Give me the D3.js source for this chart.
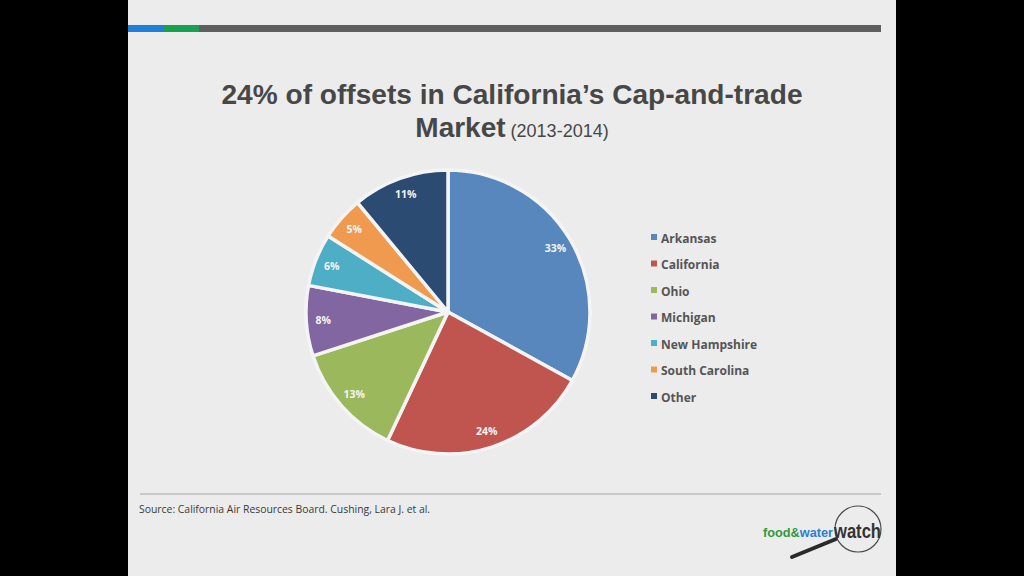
<!DOCTYPE html>
<html>
<head>
<meta charset="utf-8">
<script src="https://cdn.jsdelivr.net/npm/d3@7"></script>
<style>
  html, body { margin: 0; padding: 0; background: #000; }
  svg { display: block; }
</style>
</head>
<body>
<svg id="chart" width="1024" height="576"></svg>
<script>
// ----- data -----
const states = ['Arkansas', 'California', 'Ohio', 'Michigan', 'New Hampshire', 'South Carolina', 'Other'];
const shares = [33, 24, 13, 8, 6, 5, 11];
const colors = ['#5787bd', '#c0554f', '#9bb85c', '#8266a1', '#4eaec6', '#ef9a4f', '#2b4b72'];

const svg = d3.select('#chart');
const width = 1024, height = 576;

// slide panel
const slide = svg.append('g');
slide.append('rect')
    .attr('x', 128).attr('y', 0)
    .attr('width', 768).attr('height', height)
    .attr('fill', '#ececec');

// top accent bar
slide.append('rect').attr('x', 128).attr('y', 25).attr('width', 36).attr('height', 7).attr('fill', '#1f7fd8');
slide.append('rect').attr('x', 164).attr('y', 25).attr('width', 35).attr('height', 7).attr('fill', '#16a04f');
slide.append('rect').attr('x', 199).attr('y', 25).attr('width', 682).attr('height', 7).attr('fill', '#5f5f5f');

// title
slide.append('text')
    .attr('x', 512).attr('y', 104)
    .attr('text-anchor', 'middle')
    .attr('font-family', 'Liberation Sans, Arial, sans-serif')
    .attr('font-weight', 'bold')
    .attr('font-size', 28)
    .attr('fill', '#474747')
    .attr('textLength', 581)
    .attr('lengthAdjust', 'spacingAndGlyphs')
    .text('24% of offsets in California\u2019s Cap-and-trade');

const title2 = slide.append('text')
    .attr('x', 512).attr('y', 137)
    .attr('text-anchor', 'middle')
    .attr('font-family', 'Liberation Sans, Arial, sans-serif')
    .attr('fill', '#474747');
title2.append('tspan').attr('font-weight', 'bold').attr('font-size', 28).text('Market');
title2.append('tspan').attr('font-size', 18).text(' (2013-2014)');

// ----- pie -----
const cx = 448, cy = 312, radius = 142;

const pie = d3.pie().sort(null).value(d => d)(shares);
const arc = d3.arc().innerRadius(0).outerRadius(radius);
const labelArc = d3.arc().innerRadius(radius * 0.88).outerRadius(radius * 0.88);

const pieG = slide.append('g').attr('transform', `translate(${cx},${cy})`);

pieG.selectAll('path.slice')
    .data(pie)
    .join('path')
    .attr('class', 'slice')
    .attr('d', arc)
    .attr('fill', (d, i) => colors[i])
    .attr('stroke', '#f4f4f4')
    .attr('stroke-width', 3.5)
    .attr('stroke-linejoin', 'round');

pieG.selectAll('text.pct')
    .data(pie)
    .join('text')
    .attr('class', 'pct')
    .attr('transform', d => `translate(${labelArc.centroid(d)})`)
    .attr('text-anchor', 'middle')
    .attr('dy', '0.35em')
    .attr('font-family', 'Open Sans, Liberation Sans, sans-serif')
    .attr('font-weight', 'bold')
    .attr('font-size', 10.5)
    .attr('fill', '#f4f4f4')
    .text(d => d.data + '%');

// ----- legend -----
const legendY = d3.scalePoint().domain(states).range([239, 398]);

const legend = slide.append('g').selectAll('g')
    .data(states)
    .join('g')
    .attr('transform', d => `translate(651,${legendY(d)})`);

legend.append('rect')
    .attr('x', 0).attr('y', -5)
    .attr('width', 6).attr('height', 6)
    .attr('fill', (d, i) => colors[i]);

legend.append('text')
    .attr('x', 10).attr('y', 0)
    .attr('dy', '0.32em')
    .attr('font-family', 'Open Sans, Liberation Sans, sans-serif')
    .attr('font-weight', 'bold')
    .attr('font-size', 12)
    .attr('fill', '#555')
    .text(d => d);

// ----- footer -----
slide.append('line')
    .attr('x1', 140).attr('x2', 881)
    .attr('y1', 494).attr('y2', 494)
    .attr('stroke', '#bdbdbd').attr('stroke-width', 1.5);

slide.append('text')
    .attr('x', 139).attr('y', 513)
    .attr('font-family', 'Open Sans, Liberation Sans, sans-serif')
    .attr('font-size', 10.4)
    .attr('fill', '#3a3a3a')
    .text('Source: California Air Resources Board. Cushing, Lara J. et al.');

// logo
const logo = slide.append('g');
logo.append('line')
    .attr('x1', 792).attr('y1', 557)
    .attr('x2', 836).attr('y2', 539)
    .attr('stroke', '#2a2a2a').attr('stroke-width', 4).attr('stroke-linecap', 'round');
logo.append('circle')
    .attr('cx', 858).attr('cy', 529).attr('r', 23)
    .attr('fill', 'none').attr('stroke', '#4a4a4a').attr('stroke-width', 1.2);
logo.append('text')
    .attr('x', 763).attr('y', 537)
    .attr('font-family', 'Liberation Sans, sans-serif')
    .attr('font-weight', 'bold')
    .attr('font-size', 13)
    .attr('textLength', 70)
    .attr('lengthAdjust', 'spacingAndGlyphs')
    .call(t => {
        t.append('tspan').attr('fill', '#2f9a3e').text('food&');
        t.append('tspan').attr('fill', '#2a7fd0').text('water');
    });
logo.append('text')
    .attr('x', 834).attr('y', 538)
    .attr('font-family', 'Liberation Sans, sans-serif')
    .attr('font-weight', 'bold')
    .attr('font-size', 20)
    .attr('fill', '#333')
    .attr('textLength', 47)
    .attr('lengthAdjust', 'spacingAndGlyphs')
    .text('watch');
</script>
</body>
</html>
